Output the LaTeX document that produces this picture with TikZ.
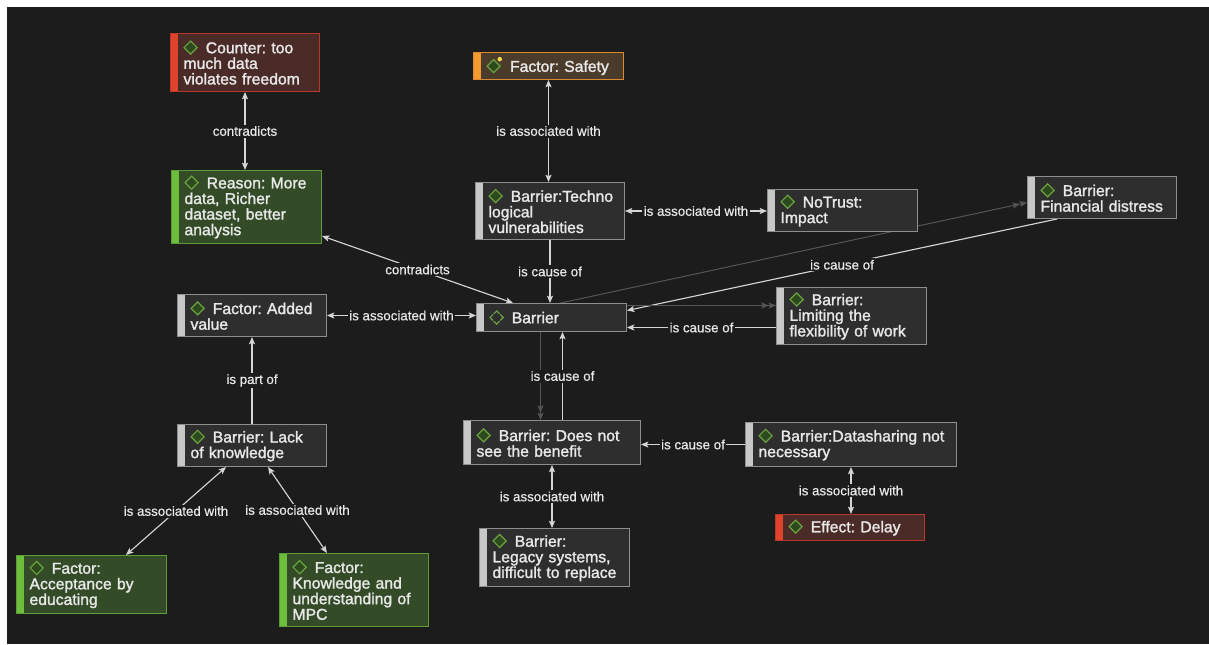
\documentclass[tikz,border=0pt]{standalone}
\usepackage{fontspec}
\setmainfont{Liberation Sans}
\newfontfamily\nfont{Liberation Sans}[FakeBold=1.6]
\newfontfamily\lfont{Liberation Sans}[FakeBold=0.5]
\usetikzlibrary{arrows.meta,calc}
\definecolor{bgc}{HTML}{1C1C1C}
\definecolor{txt}{HTML}{E8E8E8}
\definecolor{gfill}{HTML}{2E2E2E}
\definecolor{gborder}{HTML}{8E8E8E}
\definecolor{gbar}{HTML}{C8C8C8}
\definecolor{rfill}{HTML}{4A2B27}
\definecolor{rborder}{HTML}{B8382A}
\definecolor{rbar}{HTML}{E0432C}
\definecolor{grfill}{HTML}{344B28}
\definecolor{grborder}{HTML}{5E9B3A}
\definecolor{grbar}{HTML}{6DBE3D}
\definecolor{ofill}{HTML}{4A3B2B}
\definecolor{oborder}{HTML}{D98A33}
\definecolor{obar}{HTML}{F29A2E}
\definecolor{icstroke}{HTML}{6AA33F}
\definecolor{icfill}{HTML}{2D4A1E}
\definecolor{edc}{HTML}{D5D5D5}
\definecolor{dimc}{HTML}{555555}
\definecolor{dot}{HTML}{F2D94E}
\pgfdeclarelayer{bgl}
\pgfdeclarelayer{edl}
\pgfsetlayers{bgl,edl,main}
\newcommand{\dico}{\tikz[baseline={(0,-4.3pt)},x=1pt,y=1pt]{\draw[icstroke,fill=icfill,line width=0.9pt] (0,4.9)--(4.9,0)--(0,-4.9)--(-4.9,0)--cycle;}\kern6pt}
\newcommand{\dicos}{\tikz[baseline={(0,-4.3pt)},x=1pt,y=1pt]{\draw[icstroke,fill=icfill,line width=0.9pt] (0,4.9)--(4.9,0)--(0,-4.9)--(-4.9,0)--cycle;\fill[dot] (4.6,5.2) circle (1.7);}\kern6pt}
\newcommand{\dicob}{\tikz[baseline={(0,-4.3pt)},x=1pt,y=1pt]{\draw[icstroke,line width=0.9pt] (-2.2,2.7)--(0,4.9)--(2.2,2.7) (2.7,2.2)--(4.9,0)--(2.7,-2.2) (2.2,-2.7)--(0,-4.9)--(-2.2,-2.7) (-2.7,-2.2)--(-4.9,0)--(-2.7,2.2);}\kern6pt}
\tikzset{
  >={Stealth[length=5.5pt,width=4.6pt,inset=1.2pt]},
  box/.style={rectangle, draw, line width=0.75pt, anchor=north west, inner xsep=9.75pt, inner ysep=1pt, align=left, text=txt,
    font={\nfont\fontsize{11.8pt}{11.7pt}\selectfont\hyphenpenalty=10000\exhyphenpenalty=10000}},
  gbox/.style={box, fill=gfill, draw=gborder, path picture={\fill[gbar] (path picture bounding box.north west) rectangle ([xshift=5.6pt]path picture bounding box.south west);}},
  rbox/.style={box, fill=rfill, draw=rborder, path picture={\fill[rbar] (path picture bounding box.north west) rectangle ([xshift=5.6pt]path picture bounding box.south west);}},
  grbox/.style={box, fill=grfill, draw=grborder, path picture={\fill[grbar] (path picture bounding box.north west) rectangle ([xshift=5.6pt]path picture bounding box.south west);}},
  obox/.style={box, fill=ofill, draw=oborder, path picture={\fill[obar] (path picture bounding box.north west) rectangle ([xshift=5.6pt]path picture bounding box.south west);}},
  ed/.style={draw=edc, line width=0.85pt},
  dim/.style={draw=dimc, line width=0.75pt},
  lbl/.style={font={\lfont\fontsize{10pt}{11pt}\selectfont}, text=txt, fill=bgc, inner sep=1.2pt},
}
\begin{document}
\begin{tikzpicture}[x=0.75pt,y=-0.75pt]
\useasboundingbox (0,0) rectangle (1209,644);
\begin{pgfonlayer}{bgl}
\fill[white] (0,0) rectangle (1209,644);
\fill[bgc] (7,7) rectangle (1209,644);
\end{pgfonlayer}

\node[rbox, minimum width=111.75pt, minimum height=43.5pt, text width=92.25pt] (counter) at (170,33)
  {\dico Counter:~too\\much~data\\violates~freedom};
\node[grbox, minimum width=112.5pt, minimum height=54.75pt, text width=93pt] (reason) at (171,170)
  {\dico Reason:~More\\data,~Richer\\dataset,~better\\analysis};
\node[obox, minimum width=112.5pt, minimum height=20.25pt, text width=93pt] (safety) at (473,52)
  {\dicos Factor:~Safety};
\node[gbox, minimum width=111.75pt, minimum height=42.75pt, text width=92.25pt] (techno) at (475,182)
  {\mbox{\dico Barrier:Techno}\\logical\\vulnerabilities};
\node[gbox, minimum width=112.5pt, minimum height=31.5pt, text width=93pt] (notrust) at (767,189)
  {\dico NoTrust:\\Impact};
\node[gbox, minimum width=111.75pt, minimum height=31.5pt, text width=92.25pt] (financial) at (1027,176)
  {\dico Barrier:\\Financial~distress};
\node[gbox, minimum width=111.75pt, minimum height=31.5pt, text width=92.25pt] (added) at (177,294)
  {\dico Factor:~Added\\value};
\node[gbox, minimum width=112.5pt, minimum height=21pt, text width=93pt] (barrier) at (476,303)
  {\dicob Barrier};
\node[gbox, minimum width=112.5pt, minimum height=42.75pt, text width=93pt] (limiting) at (776,287)
  {\dico Barrier:\\Limiting~the\\flexibility~of~work};
\node[gbox, minimum width=111.75pt, minimum height=31.5pt, text width=92.25pt] (lack) at (177,424)
  {\dico Barrier:~Lack\\of~knowledge};
\node[gbox, minimum width=132.75pt, minimum height=33pt, text width=113.25pt] (doesnot) at (463,420)
  {\dico Barrier:~Does~not\\see~the~benefit};
\node[gbox, minimum width=158.25pt, minimum height=33pt, text width=138.75pt] (datasharing) at (745,422)
  {\mbox{\dico Barrier:Datasharing~not}\\necessary};
\node[rbox, minimum width=111.75pt, minimum height=19.5pt, text width=92.25pt] (delay) at (775,514)
  {\dico Effect:~Delay};
\node[gbox, minimum width=112.5pt, minimum height=43.5pt, text width=93pt] (legacy) at (479,528)
  {\dico Barrier:\\Legacy~systems,\\difficult~to~replace};
\node[grbox, minimum width=112.5pt, minimum height=43.5pt, text width=93pt] (acceptance) at (16,555)
  {\dico Factor:\\Acceptance~by\\educating};
\node[grbox, minimum width=111.75pt, minimum height=54.75pt, text width=92.25pt] (knowledge) at (279,553)
  {\dico Factor:\\Knowledge~and\\understanding~of\\MPC};

\begin{pgfonlayer}{edl}
\coordinate (bA) at ($(barrier.east)+(0,-12)$);
\coordinate (bB) at ($(barrier.east)+(0,10)$);
\coordinate (bC) at ($(barrier.south)+(-11,0)$);
\coordinate (bD) at ($(barrier.south)+(11,0)$);
\draw[ed,<->] (counter.south) -- node[lbl]{contradicts} (counter.south |- reason.north);
\draw[ed,<->] ([yshift=6pt]reason.south east) -- node[lbl]{contradicts} ([xshift=27.75pt]barrier.north west);
\draw[ed,<->] (safety.south) -- node[lbl]{is associated with} (safety.south |- techno.north);
\draw[ed,<->] (techno.east) -- node[lbl]{is associated with} (techno.east -| notrust.west);
\draw[ed,->] (techno.south) -- node[lbl]{is cause of} (techno.south |- barrier.north);
\draw[ed,<->] (added.east) -- node[lbl]{is associated with} (added.east -| barrier.west);
\draw[ed,->] (lack.north) -- node[lbl]{is part of} (lack.north |- added.south);
\draw[ed,<->] ([xshift=36.75pt]lack.south west) -- node[lbl]{is associated with} ([xshift=82.5pt]acceptance.north west);
\draw[ed,<->] ([xshift=-44.25pt]lack.south east) -- node[lbl]{is associated with} ([xshift=36pt]knowledge.north west);
\draw[dim,->>] ([xshift=6.75pt]barrier.north) -- ([yshift=-3.75pt]financial.west);
\draw[ed,->] ([xshift=22.5pt]financial.south west) -- node[lbl]{is cause of} ([yshift=5.25pt]barrier.east);
\draw[dim,->>] (bA) -- (bA -| limiting.west);
\draw[ed,->] (bB -| limiting.west) -- node[lbl]{is cause of} (bB);
\draw[dim,->>] (bC) -- (bC |- doesnot.north);
\draw[ed,->] (bD |- doesnot.north) -- node[lbl]{is cause of} (bD);
\draw[ed,->] (datasharing.west) -- node[lbl]{is cause of} (datasharing.west -| doesnot.east);
\draw[ed,<->] (doesnot.south) -- node[lbl]{is associated with} (doesnot.south |- legacy.north);
\draw[ed,<->] (datasharing.south) -- node[lbl]{is associated with} (datasharing.south |- delay.north);
\end{pgfonlayer}
\end{tikzpicture}
\end{document}
